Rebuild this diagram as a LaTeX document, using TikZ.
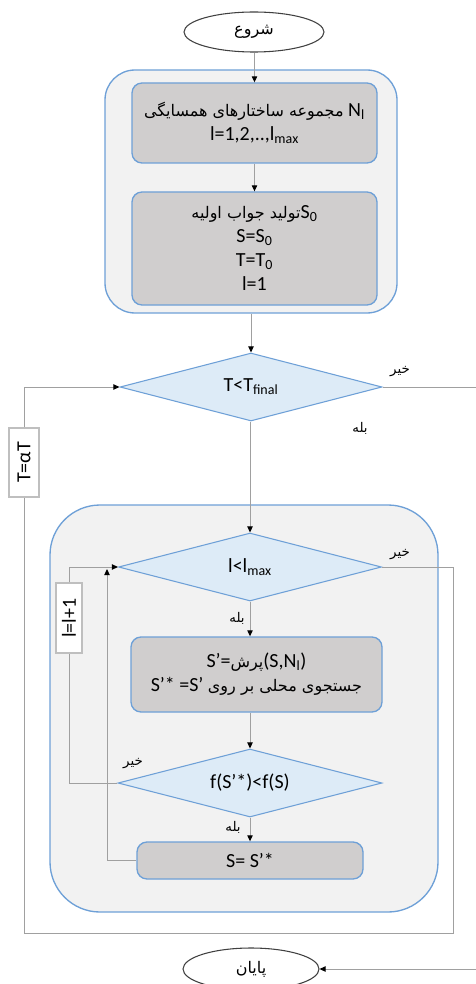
\documentclass[tikz,border=0pt]{standalone}
\usepackage{fontspec}
\setmainfont{Carlito}
\newfontfamily\fa[Script=Arabic]{DejaVu Sans}
\TeXXeTstate=1
\usepackage{xcolor}
\usepackage{tikz}
\usetikzlibrary{positioning,shapes.geometric,arrows.meta}
\definecolor{FlowBlue}{RGB}{110,160,215}
\definecolor{PaleBlue}{RGB}{221,235,247}
\definecolor{StepGray}{RGB}{208,206,206}
\definecolor{PanelGray}{RGB}{242,242,242}
\definecolor{LineGray}{RGB}{160,160,160}
\newlength{\pxu}\setlength{\pxu}{0.75pt}
\newcommand{\fatext}[1]{{\fa\fontsize{12}{18}\selectfont\beginR #1\endR}}

\begin{document}
\begin{tikzpicture}[x=0.75pt,y=-0.75pt]
        % Styles
        \tikzstyle{panel} = [draw=FlowBlue, line width=1pt, fill=PanelGray]
        \tikzstyle{stepbox} = [
            draw=FlowBlue,
            line width=1pt,
            fill=StepGray,
            rounded corners=7.5pt,
            align=center,
            font=\fontsize{15}{18}\selectfont
        ]
        \tikzstyle{test} = [diamond, aspect=3.85, draw=FlowBlue, line width=0.8pt, fill=PaleBlue, inner sep=0pt, font=\fontsize{15}{18}\selectfont]
        \tikzstyle{term} = [ellipse, draw=black!75, line width=0.8pt, fill=white, inner sep=0pt]
        \tikzstyle{update} = [draw=black!25, line width=0.8pt, fill=white, rotate=90, inner sep=0pt, font=\fontsize{15}{18}\selectfont]
        \tikzstyle{flow} = [draw=LineGray, line width=0.75pt]
        \tikzstyle{arr} = [flow, -{Triangle[length=4.5pt,width=4pt,color=black]}]
        \tikzstyle{lbl} = [inner sep=0pt, font=\fa\fontsize{10}{12}\selectfont]

        \useasboundingbox (0,0) rectangle (475,984);

        % Panels
        \node[panel, rounded corners=22.5pt, minimum width=292\pxu, minimum height=243\pxu] at (251,191.5) (init) {};
        \node[panel, rounded corners=37.5pt, minimum width=388\pxu, minimum height=407\pxu] at (244,708.5) (search) {};

        % Start and end
        \node[term, minimum width=140\pxu, minimum height=40\pxu] at (254,32) (start) {\fatext{شروع}};
        \node[term, minimum width=136\pxu, minimum height=42\pxu] at (251,969) (end) {\fatext{پایان}};

        % Steps
        \node[stepbox, minimum width=245\pxu, minimum height=80\pxu] at (254.5,123) (nbh) {\fatext{مجموعه ساختارهای همسایگی} N\textsubscript{l}\\l=1,2,..,l\textsubscript{max}};
        \node[stepbox, minimum width=245\pxu, minimum height=113\pxu] at (254.5,248.5) (sinit) {\fatext{تولید جواب اولیه}S\textsubscript{0}\\S=S\textsubscript{0}\\T=T\textsubscript{0}\\l=1};
        \node[stepbox, minimum width=251\pxu, minimum height=75\pxu] at (256.5,674.5) (shake) {S’=\fatext{پرش}(S,N\textsubscript{l})\\S’* =S’ \fatext{جستجوی محلی بر روی}};
        \node[stepbox, minimum width=226\pxu, minimum height=37\pxu] at (250,860.5) (accept) {S= S’*};

        % Tests
        \node[test, minimum width=262\pxu, minimum height=68\pxu] at (251,387) (tcool) {T<T\textsubscript{final}};
        \node[test, minimum width=263\pxu, minimum height=68\pxu] at (250,567) (lmax) {l<l\textsubscript{max}};
        \node[test, minimum width=264\pxu, minimum height=68\pxu] at (250,783) (better) {f(S’*)<f(S)};

        % Updates on the loops
        \node[update, minimum width=69\pxu, minimum height=30\pxu] at (24,462.5) (cool) {T=αT};
        \node[update, minimum width=70\pxu, minimum height=26\pxu] at (69,618) (lnext) {l=l+1};

        % Connectors
        \draw[arr] (start.south -| nbh.north) -- (nbh.north);
        \draw[arr] (nbh) -- (sinit);
        \draw[arr] (init) -- (tcool);
        \draw[arr] (tcool.south -| lmax.north) -- (lmax.north);
        \draw[arr] (lmax.south) -- (lmax.south |- shake.north);
        \draw[arr] (better.north |- shake.south) -- (better.north);
        \draw[arr] (better) -- (accept);

        \coordinate (rEdge) at (480,387);
        \coordinate (loopR) at (453,933);
        \coordinate (join) at (107,569);
        \draw[arr] (tcool.east) -- (rEdge) |- (end.east);
        \draw[flow] (lmax.east) -| (loopR) -| (cool.west);
        \draw[arr] (cool.east) |- (tcool.west);
        \draw[flow] (better.west) -| (lnext.west);
        \draw[arr] (lnext.east) |- (lmax.west);
        \draw[arr] (accept.west) -| (join);

        % Labels
        \node[lbl] at (400,372) (no1) {\beginR خیر\endR};
        \node[lbl] at (360,428) (yes1) {\beginR بله\endR};
        \node[lbl] at (400,555) (no2) {\beginR خیر\endR};
        \node[lbl] at (237,618) (yes2) {\beginR بله\endR};
        \node[lbl] at (133,764) (no3) {\beginR خیر\endR};
        \node[lbl] at (233,827) (yes3) {\beginR بله\endR};
\end{tikzpicture}
\end{document}
